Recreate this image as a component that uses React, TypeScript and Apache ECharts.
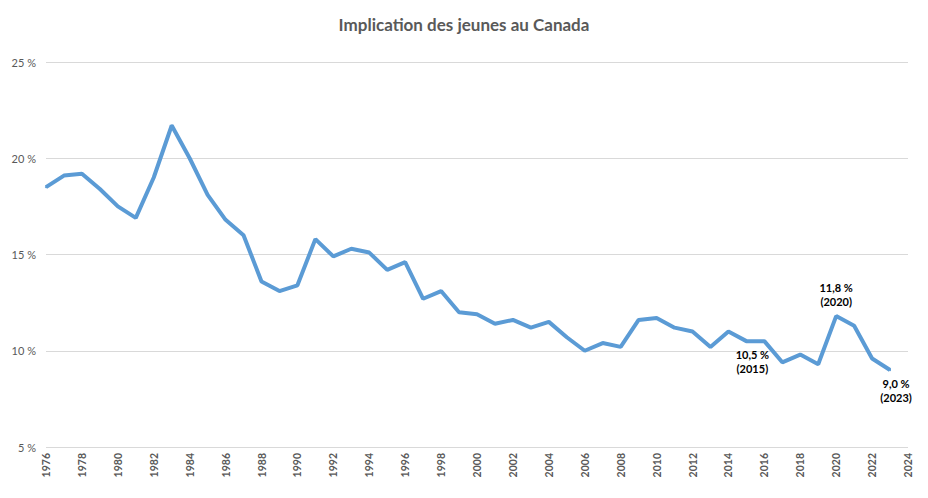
import React, { useEffect, useRef } from "react";
import * as echarts from "echarts";

const years: number[] = [
  1976, 1977, 1978, 1979, 1980, 1981, 1982, 1983, 1984, 1985, 1986, 1987,
  1988, 1989, 1990, 1991, 1992, 1993, 1994, 1995, 1996, 1997, 1998, 1999,
  2000, 2001, 2002, 2003, 2004, 2005, 2006, 2007, 2008, 2009, 2010, 2011,
  2012, 2013, 2014, 2015, 2016, 2017, 2018, 2019, 2020, 2021, 2022, 2023,
];
const values: number[] = [
  18.5, 19.1, 19.2, 18.4, 17.5, 16.9, 19.0, 21.7, 20.0, 18.1, 16.8, 16.0,
  13.6, 13.1, 13.4, 15.8, 14.9, 15.3, 15.1, 14.2, 14.6, 12.7, 13.1, 12.0,
  11.9, 11.4, 11.6, 11.2, 11.5, 10.7, 10.0, 10.4, 10.2, 11.6, 11.7, 11.2,
  11.0, 10.2, 11.0, 10.5, 10.5, 9.4, 9.8, 9.3, 11.8, 11.3, 9.6, 9.0,
];
const annotatedYears: number[] = [2015, 2020, 2023];
const annotatedPositions: string[] = ["bottom", "top", "bottom"];
const yTicks: number[] = [5, 10, 15, 20, 25];
const title = "Implication des jeunes au Canada";

const fmt = (v: number) => v.toFixed(1).replace(".", ",");

export default function App() {
  const ref = useRef<HTMLDivElement>(null);
  useEffect(() => {
    if (!ref.current) return;
    const chart = echarts.init(ref.current, null, { renderer: "svg" });
    const data = years.map((y, i) => {
      const idx = annotatedYears.indexOf(y);
      if (idx < 0) return [y, values[i]];
      const pos = annotatedPositions[idx];
      return {
        value: [y, values[i]],
        label: {
          show: true,
          position: pos,
          distance: pos === "top" ? 7 : 5,
          offset: pos === "bottom" ? [6, 0] : [0, 0],
          formatter: () => `${fmt(values[i])} %\n(${y})`,
          color: "#000000",
          fontSize: 11,
          fontWeight: "bold",
          lineHeight: 14,
          fontFamily: "Lato",
        },
      };
    });
    chart.setOption({
      animation: false,
      backgroundColor: "#ffffff",
      title: {
        text: title,
        left: "center",
        top: 11,
        textStyle: {
          fontSize: 17,
          fontWeight: "bold",
          color: "#595959",
          fontFamily: "Lato",
        },
      },
      grid: { left: 46, right: 20, top: 62, bottom: 51, containLabel: false },
      xAxis: {
        type: "value",
        min: 1976,
        max: 2024,
        interval: 2,
        axisLine: { show: false },
        axisTick: { show: false },
        splitLine: { show: false },
        axisLabel: {
          rotate: 90,
          margin: 6,
          fontSize: 10.5,
          fontWeight: "bold",
          color: "#595959",
          fontFamily: "Lato",
          formatter: (v: number) => String(v),
        },
      },
      yAxis: {
        type: "value",
        min: yTicks[0],
        max: yTicks[yTicks.length - 1],
        interval: 5,
        axisLine: { show: false },
        axisTick: { show: false },
        splitLine: { lineStyle: { color: "#d9d9d9", width: 1 } },
        axisLabel: {
          margin: 10,
          fontSize: 11,
          color: "#595959",
          fontFamily: "Lato",
          formatter: (v: number) => `${v} %`,
        },
      },
      series: [
        {
          type: "line",
          data,
          symbol: "circle",
          showSymbol: true,
          symbolSize: 2,
          lineStyle: { color: "#5B9BD5", width: 4 },
          itemStyle: { color: "#5B9BD5" },
          emphasis: { disabled: true },
        },
      ],
    });
    return () => chart.dispose();
  }, []);
  return (
    <div
      ref={ref}
      style={{ position: "fixed", left: 0, top: 0, width: 928, height: 498 }}
    />
  );
}
